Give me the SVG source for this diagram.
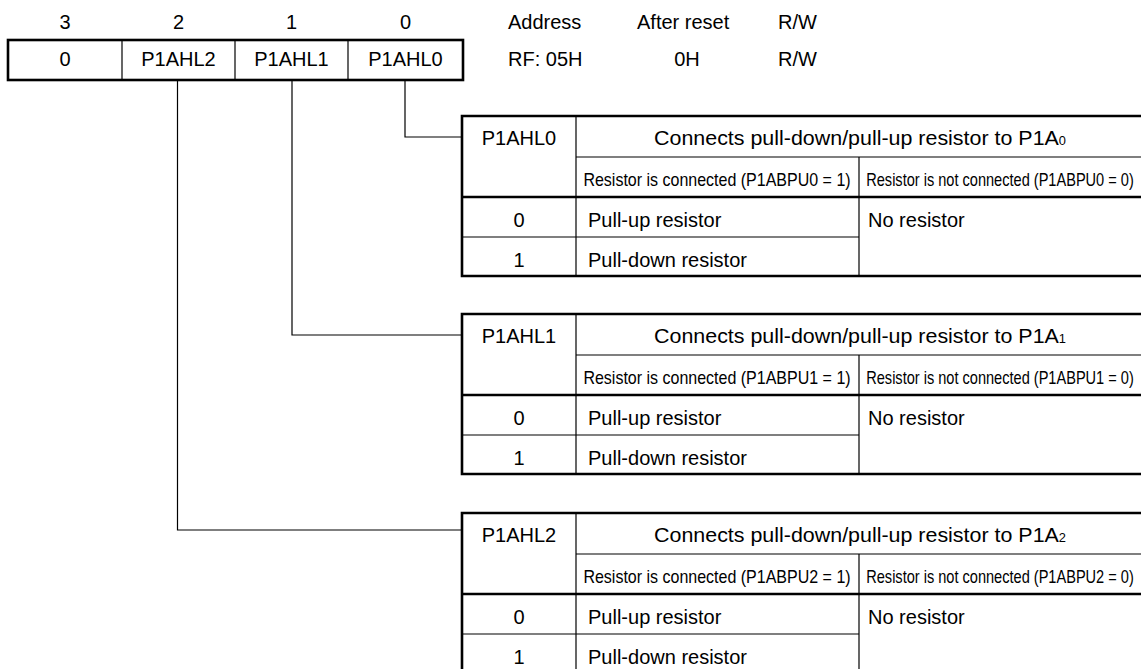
<svg xmlns="http://www.w3.org/2000/svg" width="1141" height="669" viewBox="0 0 1141 669">
<style>
text{font-family:"Liberation Sans",Arial,Helvetica,sans-serif;font-size:20px;fill:#000}
.c{text-anchor:middle}
.n{font-size:18px}
.sub{font-size:12px}
.thick{stroke:#000;stroke-width:2.6;fill:none}
.thin{stroke:#000;stroke-width:1.2;fill:none}
.conn{stroke:#000;stroke-width:1.2;fill:none}
</style>
<rect width="1141" height="669" fill="#fff"/>
<g id="header">
<text class="c" x="65" y="29">3</text>
<text class="c" x="178.5" y="29">2</text>
<text class="c" x="291.5" y="29">1</text>
<text class="c" x="405.5" y="29">0</text>
<text x="508" y="29">Address</text>
<text x="637" y="29">After reset</text>
<text x="778" y="29">R/W</text>
<text x="508" y="66">RF: 05H</text>
<text class="c" x="687" y="66">0H</text>
<text x="778" y="66">R/W</text>
</g>
<g id="register">
<line class="thin" x1="122" y1="40" x2="122" y2="80"/>
<line class="thin" x1="235" y1="40" x2="235" y2="80"/>
<line class="thin" x1="348" y1="40" x2="348" y2="80"/>
<rect class="thick" x="8" y="40" width="455" height="40"/>
<text class="c" x="65" y="66">0</text>
<text class="c" x="178.5" y="66">P1AHL2</text>
<text class="c" x="291.5" y="66">P1AHL1</text>
<text class="c" x="405.5" y="66">P1AHL0</text>
</g>
<g id="connectors">
<polyline class="conn" points="405,81 405,137 462,137"/>
<polyline class="conn" points="292,81 292,335 462,335"/>
<polyline class="conn" points="177.5,81 177.5,530 462,530"/>
</g>
<g id="table0">
<line class="thin" x1="576" y1="116" x2="576" y2="276"/>
<line class="thin" x1="576" y1="157" x2="1141" y2="157"/>
<line class="thin" x1="859" y1="157" x2="859" y2="276"/>
<line class="thin" x1="462" y1="237" x2="859" y2="237"/>
<line class="thick" x1="462" y1="197" x2="1141" y2="197"/>
<polyline class="thick" points="1141,116 462,116 462,276 1141,276"/>
<text class="c" x="519" y="145">P1AHL0</text>
<text class="c" x="860" y="145" textLength="412" lengthAdjust="spacingAndGlyphs">Connects pull-down/pull-up resistor to P1A<tspan class="sub">0</tspan></text>
<text class="c n" transform="translate(717,186) scale(0.89,1)">Resistor is connected (P1ABPU0 = 1)</text>
<text class="c n" transform="translate(1000,186) scale(0.81,1)">Resistor is not connected (P1ABPU0 = 0)</text>
<text class="c" x="519" y="227">0</text>
<text x="588" y="227">Pull-up resistor</text>
<text x="868" y="227">No resistor</text>
<text class="c" x="519" y="267">1</text>
<text x="588" y="267">Pull-down resistor</text>
</g>
<g id="table1" transform="translate(0,198)">
<line class="thin" x1="576" y1="116" x2="576" y2="276"/>
<line class="thin" x1="576" y1="157" x2="1141" y2="157"/>
<line class="thin" x1="859" y1="157" x2="859" y2="276"/>
<line class="thin" x1="462" y1="237" x2="859" y2="237"/>
<line class="thick" x1="462" y1="197" x2="1141" y2="197"/>
<polyline class="thick" points="1141,116 462,116 462,276 1141,276"/>
<text class="c" x="519" y="145">P1AHL1</text>
<text class="c" x="860" y="145" textLength="412" lengthAdjust="spacingAndGlyphs">Connects pull-down/pull-up resistor to P1A<tspan class="sub">1</tspan></text>
<text class="c n" transform="translate(717,186) scale(0.89,1)">Resistor is connected (P1ABPU1 = 1)</text>
<text class="c n" transform="translate(1000,186) scale(0.81,1)">Resistor is not connected (P1ABPU1 = 0)</text>
<text class="c" x="519" y="227">0</text>
<text x="588" y="227">Pull-up resistor</text>
<text x="868" y="227">No resistor</text>
<text class="c" x="519" y="267">1</text>
<text x="588" y="267">Pull-down resistor</text>
</g>
<g id="table2" transform="translate(0,397)">
<line class="thin" x1="576" y1="116" x2="576" y2="276"/>
<line class="thin" x1="576" y1="157" x2="1141" y2="157"/>
<line class="thin" x1="859" y1="157" x2="859" y2="276"/>
<line class="thin" x1="462" y1="237" x2="859" y2="237"/>
<line class="thick" x1="462" y1="197" x2="1141" y2="197"/>
<polyline class="thick" points="1141,116 462,116 462,276 1141,276"/>
<text class="c" x="519" y="145">P1AHL2</text>
<text class="c" x="860" y="145" textLength="412" lengthAdjust="spacingAndGlyphs">Connects pull-down/pull-up resistor to P1A<tspan class="sub">2</tspan></text>
<text class="c n" transform="translate(717,186) scale(0.89,1)">Resistor is connected (P1ABPU2 = 1)</text>
<text class="c n" transform="translate(1000,186) scale(0.81,1)">Resistor is not connected (P1ABPU2 = 0)</text>
<text class="c" x="519" y="227">0</text>
<text x="588" y="227">Pull-up resistor</text>
<text x="868" y="227">No resistor</text>
<text class="c" x="519" y="267">1</text>
<text x="588" y="267">Pull-down resistor</text>
</g>
</svg>
